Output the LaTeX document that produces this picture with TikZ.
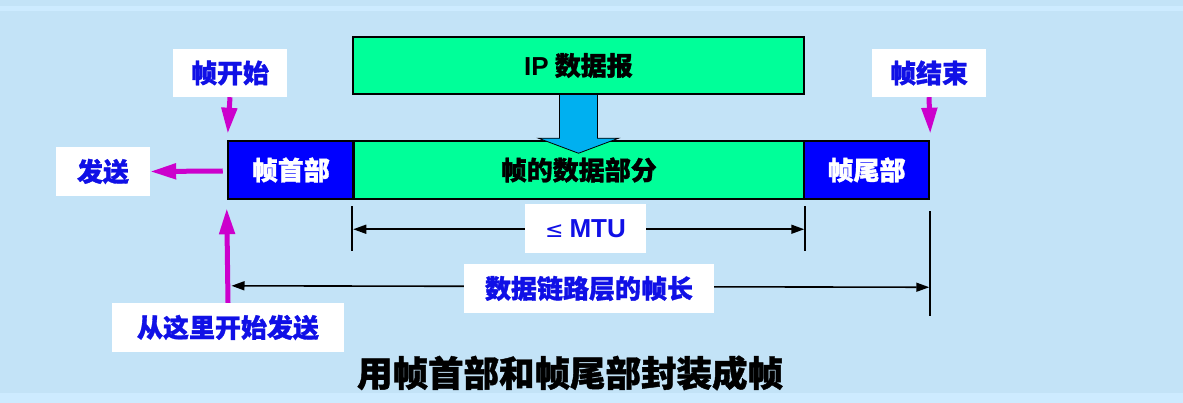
\documentclass[tikz,border=0pt]{standalone}
\usepackage{fontspec}
\setmainfont{Noto Sans CJK SC}[BoldFeatures={FakeBold=1.2}]
\newfontfamily\dejavu{DejaVu Sans}
\newfontfamily\arialf{Liberation Sans}
\usetikzlibrary{arrows.meta,calc}
\definecolor{bg}{RGB}{195,227,247}
\definecolor{bgl}{RGB}{205,235,255}
\definecolor{grn}{RGB}{0,255,153}
\definecolor{blu}{RGB}{0,0,255}
\definecolor{mag}{RGB}{204,0,204}
\definecolor{txtb}{RGB}{16,16,230}
\definecolor{cyanarrow}{RGB}{0,176,240}
\tikzset{
  lbl/.style={fill=white, text=txtb, inner sep=0pt, minimum height=48pt,
    font=\fontsize{26}{26}\selectfont\bfseries},
  fbox/.style={draw=black, line width=2.5pt, inner sep=0pt, minimum height=58pt,
    font=\fontsize{26}{26}\selectfont\bfseries},
  magarrow/.style={draw=mag, line width=5pt, -{Triangle[width=15pt,length=26pt]}},
  dimline/.style={draw=black, line width=1.6pt, {Triangle[width=9pt,length=13pt]}-{Triangle[width=9pt,length=13pt]}},
  tick/.style={draw=black, line width=2pt},
}
\begin{document}
\begin{tikzpicture}[x=1pt,y=-1pt]
\useasboundingbox (0,0) rectangle (1183,403);
\fill[bg] (0,0) rectangle (1183,403);
\fill[bgl] (0,6) rectangle (1183,11);
\fill[bgl] (0,393) rectangle (1183,403);

% frame boxes
\node[fbox, fill=grn, minimum width=451pt, minimum height=57pt] (ip) at (578.5,65.5) {{\arialf\bfseries IP} 数据报};
\node[fbox, fill=blu, text=white, minimum width=125.5pt] (hdr) at (290.75,170) {帧首部};
\node[fbox, fill=grn, minimum width=450.5pt] (data) at (578.75,170) {帧的数据部分};
\node[fbox, fill=blu, text=white, minimum width=125pt] (tail) at (866.5,170) {帧尾部};

% big arrow from IP datagram to data part
\draw[fill=cyanarrow, line width=0.8pt]
  ($(ip.south)+(-19,0)$) -- ($(ip.south)+(-19,43)$) -- ($(ip.south)+(-40,43)$)
  -- ($(ip.south)+(0,58)$) -- ($(ip.south)+(40,43)$) -- ($(ip.south)+(19,43)$)
  -- ($(ip.south)+(19,0)$);

% labels
\node[lbl, minimum width=114pt] (start) at (230,73) {帧开始};
\node[lbl, minimum width=114pt] (stop) at (929,73) {帧结束};
\node[lbl, minimum width=94pt, minimum height=49pt] (send) at (103,171.5) {发送};
\node[lbl, minimum width=232pt, minimum height=49pt] (here) at (228,327.5) {从这里开始发送};

% magenta arrows
\draw[magarrow] (start.south) -- ($(hdr.north west)+(1,-6)$);
\draw[magarrow] (stop.south) -- ($(tail.north east)+(0,-6)$);
\draw[magarrow] ($(hdr.west)+(-4,1)$) -- (send.east);
\draw[magarrow] (here.north) -- ($(hdr.south west)+(0,8)$);

% MTU dimension
\draw[tick] ($(data.south west)+(0,6)$) -- ($(data.south west)+(0,51)$);
\draw[tick] ($(data.south east)+(0,6)$) -- ($(data.south east)+(0,51)$);
\draw[dimline] ($(data.south west)+(1,29)$) -- ($(data.south east)+(-1,29)$);
\node[lbl, minimum width=121pt, minimum height=49pt, font=\fontsize{26}{26}\selectfont] (mtu) at (585.5,228.5)
  {{\dejavu\fontsize{22}{22}\selectfont ≤}\hspace{6pt}{\arialf\bfseries MTU}};

% frame length dimension
\draw[tick] ($(tail.south east)+(0,11)$) -- ($(tail.south east)+(0,116)$);
\draw[dimline] ($(here.north)+(3.5,-17)$) -- ($(tail.south east)+(-1,87)$);
\node[lbl, minimum width=250pt, minimum height=49pt] (len) at (589,288.5) {数据链路层的帧长};

% title
\node[font=\fontsize{35.5}{36}\selectfont\bfseries, text=black, inner sep=0pt] (title) at (570,373) {用帧首部和帧尾部封装成帧};
\end{tikzpicture}
\end{document}
